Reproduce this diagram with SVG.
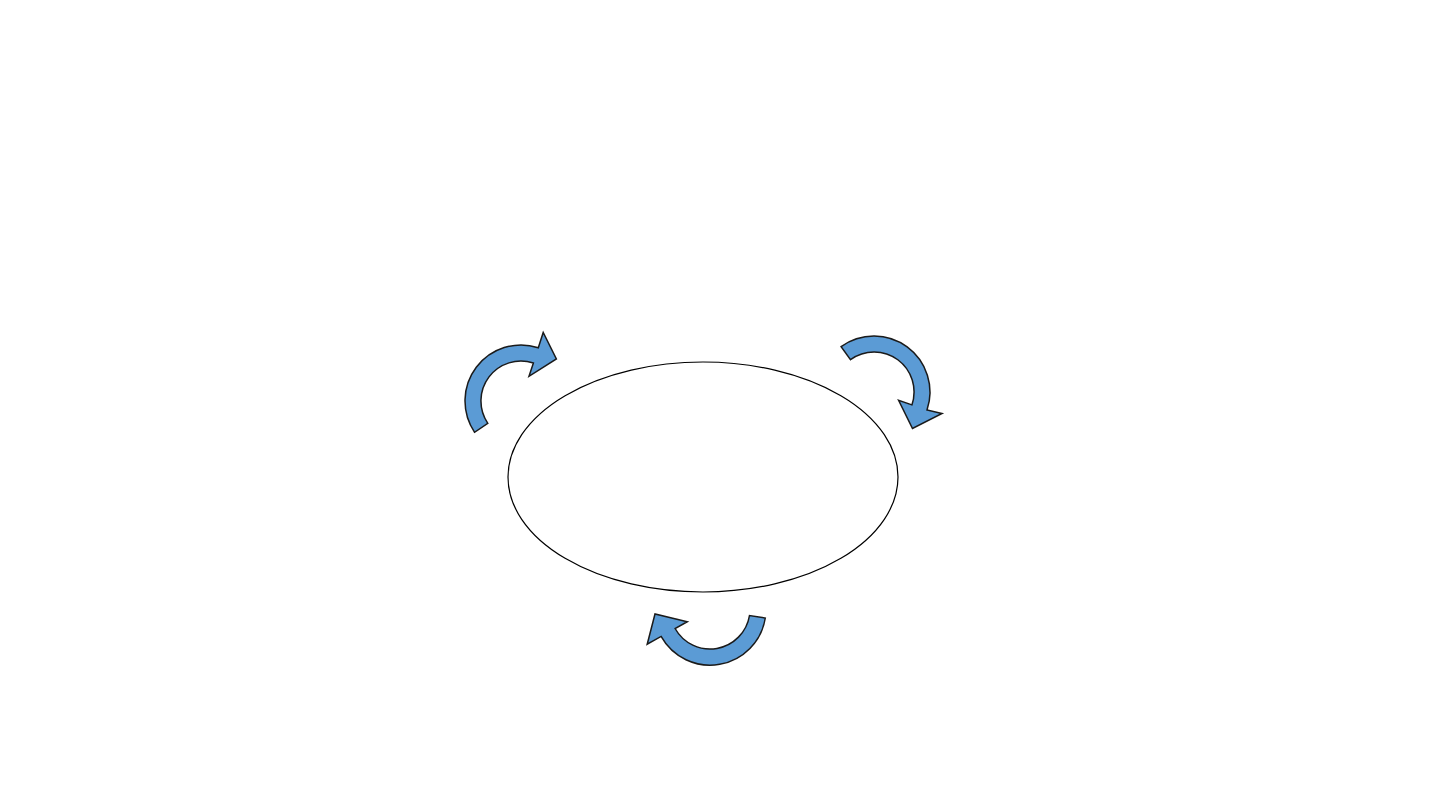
<svg xmlns="http://www.w3.org/2000/svg" width="1440" height="810" viewBox="0 0 1440 810">
<style>
.arrow{fill:#5B9BD5;stroke:#1a1a1a;stroke-width:1.5;stroke-linejoin:miter}
.center{fill:#ffffff;stroke:#000000;stroke-width:1.2}
</style>
<rect width="1440" height="810" fill="#ffffff"/>
<g id="center-node">
<ellipse class="center" cx="703" cy="477" rx="195" ry="115"/>
</g>
<g id="connectors">
<path id="arrow-top-left" class="arrow" d="M474.6,432.3 A56,56 0 0 1 538.3,347.7 L543.2,332.5 L556.4,358.9 L529,376.3 L533.4,363 A40,40 0 0 0 487.8,423.4 Z"/>
<path id="arrow-top-right" class="arrow" d="M841.1,346.7 A56,56 0 0 1 927,410 L942,413.5 L912.5,428.5 L898.6,400.4 L911.9,404.9 A40,40 0 0 0 850.5,359.6 Z"/>
<path id="arrow-bottom" class="arrow" d="M765.3,618 A56,56 0 0 1 661.1,636.4 L647.2,644.2 L655,614 L687.3,621.7 L675.1,628.5 A40,40 0 0 0 749.5,615.5 Z"/>
</g>
</svg>
